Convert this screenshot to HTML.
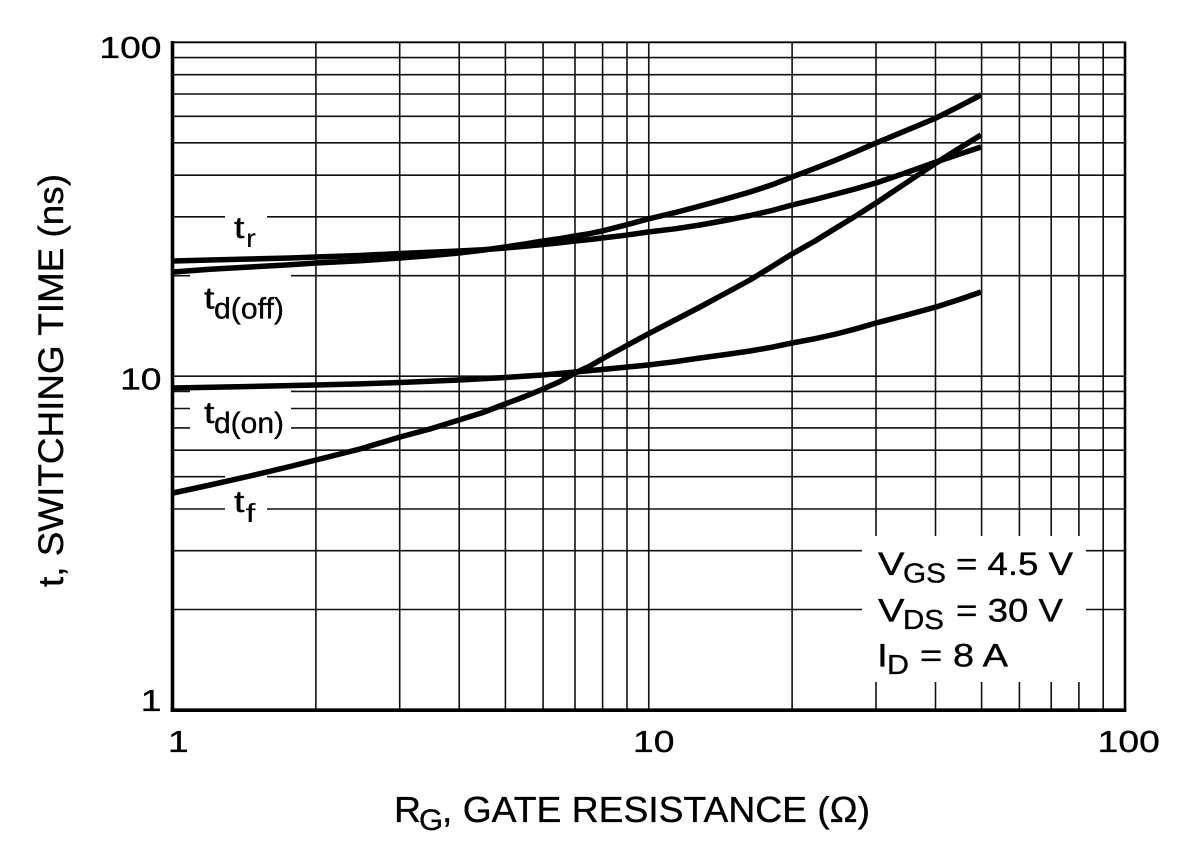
<!DOCTYPE html>
<html>
<head>
<meta charset="utf-8">
<style>
  html,body{margin:0;padding:0;background:#fff;}
  svg{display:block;}
  text{font-family:"Liberation Sans", Arial, sans-serif; fill:#000;}
  .b{stroke:#000;stroke-width:0.35px;}
</style>
</head>
<body>
<svg width="1177" height="848" viewBox="0 0 1177 848" xmlns="http://www.w3.org/2000/svg">
  <rect x="0" y="0" width="1177" height="848" fill="#fff"/>

  <!-- horizontal gridlines -->
  <g stroke="#111" stroke-width="1.6">
    <line x1="172" y1="609.5" x2="1125" y2="609.5"/>
    <line x1="172" y1="550.7" x2="1125" y2="550.7"/>
    <line x1="172" y1="509.0" x2="1125" y2="509.0"/>
    <line x1="172" y1="476.65" x2="1125" y2="476.65"/>
    <line x1="172" y1="450.2" x2="1125" y2="450.2"/>
    <line x1="172" y1="427.9" x2="1125" y2="427.9"/>
    <line x1="172" y1="408.5" x2="1125" y2="408.5"/>
    <line x1="172" y1="391.4" x2="1125" y2="391.4"/>
    <line x1="172" y1="376.15" x2="1125" y2="376.15"/>
    <line x1="172" y1="275.65" x2="1125" y2="275.65"/>
    <line x1="172" y1="216.86" x2="1125" y2="216.86"/>
    <line x1="172" y1="175.15" x2="1125" y2="175.15"/>
    <line x1="172" y1="142.8" x2="1125" y2="142.8"/>
    <line x1="172" y1="116.36" x2="1125" y2="116.36"/>
    <line x1="172" y1="94.0" x2="1125" y2="94.0"/>
    <line x1="172" y1="74.65" x2="1125" y2="74.65"/>
    <line x1="172" y1="57.6" x2="1125" y2="57.6"/>
  </g>
  <!-- vertical gridlines -->
  <g stroke="#111" stroke-width="1.6">
    <line x1="315.9" y1="42" x2="315.9" y2="710"/>
    <line x1="399.7" y1="42" x2="399.7" y2="710"/>
    <line x1="459.2" y1="42" x2="459.2" y2="710"/>
    <line x1="505.4" y1="42" x2="505.4" y2="710"/>
    <line x1="543.1" y1="42" x2="543.1" y2="710"/>
    <line x1="575.0" y1="42" x2="575.0" y2="710"/>
    <line x1="602.6" y1="42" x2="602.6" y2="710"/>
    <line x1="627.0" y1="42" x2="627.0" y2="710"/>
    <line x1="648.75" y1="42" x2="648.75" y2="710"/>
    <line x1="792.1" y1="42" x2="792.1" y2="710"/>
    <line x1="876.0" y1="42" x2="876.0" y2="710"/>
    <line x1="935.5" y1="42" x2="935.5" y2="710"/>
    <line x1="981.6" y1="42" x2="981.6" y2="710"/>
    <line x1="1019.4" y1="42" x2="1019.4" y2="710"/>
    <line x1="1051.2" y1="42" x2="1051.2" y2="710"/>
    <line x1="1078.9" y1="42" x2="1078.9" y2="710"/>
    <line x1="1103.2" y1="42" x2="1103.2" y2="710"/>
  </g>

  <!-- white label masks -->
  <g fill="#fff">
    <rect x="225" y="200" width="42" height="46"/>
    <rect x="190" y="268" width="101" height="64"/>
    <rect x="190" y="385" width="101" height="55"/>
    <rect x="225" y="470" width="42" height="60"/>
    <rect x="862" y="536" width="224" height="146"/>
  </g>

  <!-- curves -->
  <g fill="none" stroke="#000" stroke-width="5.5" stroke-linejoin="round" stroke-linecap="butt">
    <polyline points="173,261 210,260 250,259 290,258 316,257 360,255.5 400,253.5 430,252.3 459,251 483,249.7 505,248 525,246.3 543,244.5 560,242.8 575,241 590,239.5 602,238 625,235.3 648,232 675,228.8 700,225 725,220.5 750,215.5 772,210.5 792,205 815,199.5 836,194 856,188.7 876,183 906,172.7 936,162 959,154.3 981,147"/>
    <polyline points="173,272 210,269.3 250,267 290,264.7 316,263 360,260.7 400,258 430,255.6 459,253 483,250.2 505,247 525,244 543,241 560,238.6 575,236 590,233.6 602,231 625,225.2 648,219 675,212.6 700,206 725,199.2 750,192 772,184.8 792,177 815,168.3 836,160 856,151.6 876,143 906,130.6 936,118 959,106.4 981,95"/>
    <polyline points="173,493 210,485 250,476 290,466.5 316,460 360,449 400,437 430,429 459,420 483,412.5 505,404 525,396.5 543,389 560,381.5 575,373 590,366 602,359 625,346.5 648,334 675,320 700,307 725,293.5 750,280 772,266.5 792,254 815,241 836,228 856,215.8 876,203 906,183 936,163 959,148.5 981,135"/>
    <polyline points="173,388 250,386.5 316,385 360,383.9 400,382.5 459,380 505,377.5 543,375 575,372 602,369.5 625,367.3 648,365 675,361.7 700,358 725,354.6 750,351 772,347.2 792,343 815,338.7 836,334 856,328.8 876,323 906,315.2 936,307 959,299.6 981,292"/>
  </g>

  <!-- axes frame -->
  <line x1="172" y1="42.3" x2="1125" y2="42.3" stroke="#000" stroke-width="1.8"/>
  <line x1="1125" y1="41.5" x2="1125" y2="711.5" stroke="#000" stroke-width="2.6"/>
  <line x1="172.5" y1="41" x2="172.5" y2="712" stroke="#000" stroke-width="3.6"/>
  <line x1="170.7" y1="710.2" x2="1126.3" y2="710.2" stroke="#000" stroke-width="3.6"/>

  <!-- y tick labels -->
  <text class="b" x="99.4" y="58" font-size="31" textLength="62.1" lengthAdjust="spacingAndGlyphs">100</text>
  <text class="b" x="120.1" y="389.5" font-size="31" textLength="41.4" lengthAdjust="spacingAndGlyphs">10</text>
  <text class="b" x="140.8" y="711" font-size="31" textLength="20.7" lengthAdjust="spacingAndGlyphs">1</text>

  <!-- x tick labels -->
  <text class="b" x="168" y="752" font-size="31" textLength="20.7" lengthAdjust="spacingAndGlyphs">1</text>
  <text class="b" x="633" y="752" font-size="31" textLength="41.4" lengthAdjust="spacingAndGlyphs">10</text>
  <text class="b" x="1097.7" y="752" font-size="31" textLength="62.1" lengthAdjust="spacingAndGlyphs">100</text>

  <!-- axis titles -->
  <text class="b" x="394" y="822" font-size="36" textLength="27" lengthAdjust="spacingAndGlyphs">R</text>
  <text class="b" x="419" y="830" font-size="30" textLength="24" lengthAdjust="spacingAndGlyphs">G</text>
  <text class="b" x="442" y="822" font-size="36" textLength="428" lengthAdjust="spacingAndGlyphs">, GATE RESISTANCE (Ω)</text>

  <text class="b" transform="rotate(-90)" x="-587" y="63" font-size="35.5" textLength="413" lengthAdjust="spacingAndGlyphs">t, SWITCHING TIME (ns)</text>

  <!-- curve labels -->
  <text class="b" x="234" y="238" font-size="31" textLength="10.5" lengthAdjust="spacingAndGlyphs">t</text>
  <text x="246" y="247" font-size="26" textLength="10" lengthAdjust="spacingAndGlyphs">r</text>

  <text class="b" x="204" y="308.5" font-size="31" textLength="10.5" lengthAdjust="spacingAndGlyphs">t</text>
  <text class="b" x="214" y="318.5" font-size="30" textLength="70" lengthAdjust="spacingAndGlyphs">d(off)</text>

  <text class="b" x="204" y="423" font-size="31" textLength="10.5" lengthAdjust="spacingAndGlyphs">t</text>
  <text class="b" x="214" y="433" font-size="30" textLength="70" lengthAdjust="spacingAndGlyphs">d(on)</text>

  <text class="b" x="234" y="512" font-size="31" textLength="10.5" lengthAdjust="spacingAndGlyphs">t</text>
  <text x="245.5" y="522" font-size="26" textLength="10" lengthAdjust="spacingAndGlyphs">f</text>

  <!-- conditions -->
  <text class="b" x="878" y="575" font-size="32.5" textLength="26.5" lengthAdjust="spacingAndGlyphs">V</text>
  <text class="b" x="903" y="582.5" font-size="28" textLength="43" lengthAdjust="spacingAndGlyphs">GS</text>
  <text class="b" x="956" y="575" font-size="32.5" textLength="117" lengthAdjust="spacingAndGlyphs">= 4.5 V</text>

  <text class="b" x="878" y="621.7" font-size="32.5" textLength="26.5" lengthAdjust="spacingAndGlyphs">V</text>
  <text class="b" x="903" y="629" font-size="28" textLength="41" lengthAdjust="spacingAndGlyphs">DS</text>
  <text class="b" x="956" y="621.7" font-size="32.5" textLength="107" lengthAdjust="spacingAndGlyphs">= 30 V</text>

  <text class="b" x="877" y="666.7" font-size="32.5" textLength="10.8" lengthAdjust="spacingAndGlyphs">I</text>
  <text class="b" x="887" y="674" font-size="28" textLength="22" lengthAdjust="spacingAndGlyphs">D</text>
  <text class="b" x="920" y="666.7" font-size="32.5" textLength="88" lengthAdjust="spacingAndGlyphs">= 8 A</text>
</svg>
</body>
</html>
